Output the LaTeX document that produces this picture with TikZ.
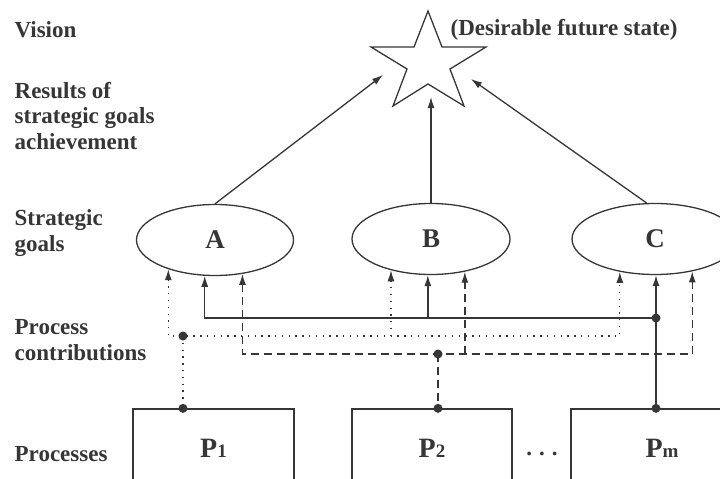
\documentclass[tikz,border=0pt]{standalone}
\usepackage{fontspec}
\setmainfont{Liberation Serif}
\usetikzlibrary{arrows.meta,shapes.geometric}
\begin{document}
\begin{tikzpicture}[x=1pt,y=-1pt,line width=1.3pt,>={Latex[length=11pt,width=7pt]},
 lab/.style={anchor=base west,align=left,inner sep=0pt,text=ink,font=\fontsize{23}{25.5}\selectfont\bfseries},
 goal/.style={draw=ink,ellipse,minimum height=71pt,inner sep=0pt,text=ink,font=\fontsize{27}{27}\selectfont\bfseries},
 proc/.style={draw=ink,rectangle,minimum height=78pt,inner sep=0pt,text=ink,font=\fontsize{28}{28}\selectfont\bfseries},
 junction/.style={circle,fill=ink,inner sep=0pt,minimum size=9pt},
 contribdot/.style={dash pattern=on 1.3pt off 5.5pt},
 contribdash/.style={dash pattern=on 8pt off 5pt}]
 \definecolor{ink}{HTML}{363636}
 \useasboundingbox (0,0) rectangle (720,479);
 \clip (0,0) rectangle (720,479);
 \node[lab] (vision) at (14,37) {Vision};
 \node[lab] (results) at (14,149) {Results of\\strategic goals\\achievement};
 \node[lab] (strategic) at (14,251) {Strategic\\goals};
 \node[lab] (contrib) at (14,360) {Process\\contributions};
 \node[lab] (processes) at (14,461) {Processes};
 \node[lab] (future) at (450,35) {(Desirable future state)};
 \draw [ink,line join=miter] (428,11) -- (442,47) -- (486,47) -- (450,69) -- (464,106) -- (428,84) --
  (393,106) -- (407,69) -- (371,47) -- (414,47) -- cycle;
 \coordinate (tA) at (383,75);
 \coordinate (tB) at (428,97);
 \coordinate (tC) at (471,79);
 \node[goal,minimum width=157pt] (A) at (215,240) {A};
 \node[goal,minimum width=158pt] (B) at (431,239) {B};
 \node[goal,minimum width=166pt] (C) at (655,239) {C};
 \node[proc,minimum width=161pt] (P1) at (213.5,448) {P{\fontsize{19}{19}\selectfont 1}};
 \node[proc,minimum width=160pt] (P2) at (432,448) {P{\fontsize{19}{19}\selectfont 2}};
 \node[proc,minimum width=182pt] (Pm) at (662,448) {P{\fontsize{19}{19}\selectfont m}};
 \node[lab,anchor=base] (more) at (542,455) {.\hspace{0.3em}.\hspace{0.3em}.};
 \draw [ink,->] (A.north) -- (tA);
 \draw [ink,->] (B.north) -- (B.north |- tB);
 \draw [ink,->] (C.103) -- (tC);
 \node[junction] (j1) at (183,336) {};
 \node[junction] (j2) at (438,354) {};
 \node[junction] (j3) at (656,318) {};
 \node[junction] (k1) at (j1 |- P1.north) {};
 \node[junction] (k2) at (j2 |- P2.north) {};
 \node[junction] (k3) at (j3 |- Pm.north) {};
 \draw [ink,contribdot,<->] (A.212) -- (A.212 |- j1.center) -- (C.223 |- j1.center) -- (C.223);
 \draw [ink,contribdot,->] (B.218 |- j1.center) -- (B.218);
 \draw [ink,contribdot] (j1.center) -- (k1.center);
 \draw [ink,contribdash,<->] (A.309) -- (A.309 |- j2.center) -- (C.319 |- j2.center) -- (C.319);
 \draw [ink,contribdash,->] (B.316 |- j2.center) -- (B.316);
 \draw [ink,contribdash] (j2.center) -- (k2.center);
 \draw [ink,<-] (A.254) -- (A.254 |- j3.center) -- (j3.center);
 \draw [ink,->] (B.265 |- j3.center) -- (B.265);
 \draw [ink,->] (k3.center) -- (k3.center |- C.south);
\end{tikzpicture}
\end{document}
